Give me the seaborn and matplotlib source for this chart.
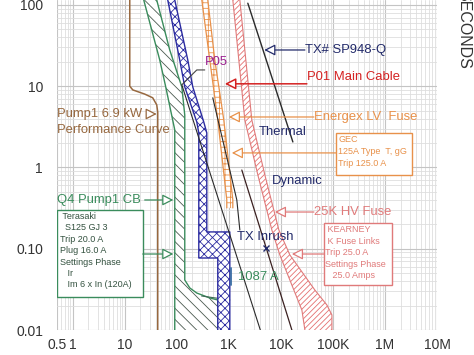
import numpy as np
import pandas as pd
import matplotlib
matplotlib.use("Agg")
import matplotlib.pyplot as plt
import seaborn as sns
from matplotlib.patches import Rectangle
from matplotlib.ticker import LogLocator, FixedLocator, FixedFormatter, NullFormatter

# ---------------- data (current A, time s) ----------------
motor_I = [12.5, 12.5, 14.3, 24.2, 34.5, 41.2, 43.1, 43.1]
motor_t = [115, 10.0, 9.0, 8.0, 7.2, 5.9, 4.8, 0.01]

cb_min_I = [23.2, 47.1, 61.4, 91.5, 91.5]
cb_min_t = [115, 21.0, 9.8, 2.9, 0.01]
cb_max_I = [41.2, 73.3, 125, 142.5, 142.5, 178, 242.5, 431, 614, 614]
cb_max_t = [115, 27.9, 9.8, 4.4, 0.0412, 0.0329, 0.0285, 0.0248, 0.0234, 0.01]
cb_tail_I = [300, 1045]
cb_tail_t = [0.0262, 0.0234]

p05_min_I = [67.1, 114, 142.5, 242.5, 265, 265, 614, 614]
p05_min_t = [115, 21, 9.8, 3.63, 2.66, 0.0769, 0.0769, 0.01]
p05_max_I = [91.5, 162.8, 203, 330, 377.6, 377.6, 1045, 1045]
p05_max_t = [115, 21, 9.8, 3.63, 2.66, 0.161, 0.161, 0.01]

lv_min_I = [302.7, 431, 614, 915, 915]
lv_min_t = [115, 21, 3.84, 0.398, 0.318]
lv_max_I = [394.5, 538, 801, 1194, 1194]
lv_max_t = [115, 21, 3.84, 0.398, 0.318]

hv_min_I = [1194, 2031, 3612, 6714, 9572, 17780, 25350, 28960]
hv_min_t = [115, 3.84, 0.81, 0.170, 0.0838, 0.031, 0.0176, 0.01]
hv_max_I = [1629, 2768, 4924, 9155, 14900, 45060, 76700, 95700, 95700]
hv_max_t = [115, 3.84, 0.81, 0.170, 0.0838, 0.031, 0.0203, 0.0153, 0.01]

tx_thermal_I = [2318, 17020]
tx_thermal_t = [105, 2.06]
tx_dynamic_I = [1778, 16280]
tx_dynamic_t = [0.93, 0.01]
tx_frequent_I = [492, 1425, 1629]
tx_frequent_t = [7.2, 0.398, 0.17]
p05_cable_I = [125, 4031]
p05_cable_t = [10.4, 0.01]
inrush_I = [5150]
inrush_t = [0.102]
fault_I = [1087, 1087]
fault_t = [0.058, 0.036]

x_ticks = [0.5, 1, 10, 100, 1e3, 1e4, 1e5, 1e6, 1e7]
x_labels = ["0.5", "1", "10", "100", "1K", "10K", "100K", "1M", "10M"]
y_ticks = [0.01, 0.1, 1, 10, 100]
y_labels = ["0.01", "0.10", "1", "10", "100"]

# ---------------- style ----------------
sns.set_theme(style="white")
plt.rcParams["font.family"] = ["Liberation Sans", "DejaVu Sans"]
plt.rcParams["hatch.linewidth"] = 0.6

BROWN = "#97683f"
GREEN = "#3a8c5c"
BLUE = "#2b2ba0"
PURPLE = "#9b2090"
ORANGE = "#e8914a"
RED = "#d42222"
PINK = "#e07a7a"
NAVY = "#222a6a"
DARK = "#2a2a2a"

fig = plt.figure(figsize=(4.74, 3.55), dpi=100)
ax = fig.add_axes([57 / 474, 25 / 355, 380 / 474, 330 / 355])
ax.set_xscale("log")
ax.set_yscale("log")
ax.set_xlim(0.5, 1e7)
ax.set_ylim(0.01, 115)

# grid
ax.xaxis.set_minor_locator(LogLocator(base=10, subs=range(2, 10), numticks=50))
ax.yaxis.set_minor_locator(LogLocator(base=10, subs=range(2, 10), numticks=50))
ax.xaxis.set_minor_formatter(NullFormatter())
ax.yaxis.set_minor_formatter(NullFormatter())
ax.xaxis.set_major_locator(FixedLocator(x_ticks))
ax.xaxis.set_major_formatter(FixedFormatter(x_labels))
ax.yaxis.set_major_locator(FixedLocator(y_ticks))
ax.yaxis.set_major_formatter(FixedFormatter(y_labels))
ax.grid(which="major", color="#c4c4c4", lw=0.8)
ax.grid(which="minor", color="#dedede", lw=0.6)
ax.set_axisbelow(True)
ax.tick_params(which="both", length=0)
ax.tick_params(axis="x", pad=6, labelsize=10, labelcolor="#333333")
ax.tick_params(axis="y", pad=10, labelsize=10, labelcolor="#333333")
for s in ax.spines.values():
    s.set_visible(False)


def band(min_I, min_t, max_I, max_t, color, hatch, edge=None, lw=0.9, z=2):
    xs = list(min_I) + list(max_I)[::-1]
    ys = list(min_t) + list(max_t)[::-1]
    ax.fill(xs, ys, facecolor="white", edgecolor=color, hatch=hatch, lw=0, zorder=z)
    ec = edge or color
    sns.lineplot(x=min_I, y=min_t, sort=False, estimator=None, ax=ax, color=ec, lw=lw, zorder=z + 0.1)
    sns.lineplot(x=max_I, y=max_t, sort=False, estimator=None, ax=ax, color=ec, lw=lw, zorder=z + 0.1)


band(hv_min_I, hv_min_t, hv_max_I, hv_max_t, "#e47070", "//////", edge=PINK, lw=0.8)
band(cb_min_I, cb_min_t, cb_max_I, cb_max_t, "#4b5a50", "\\\\\\", edge=GREEN, lw=1.0)
sns.lineplot(x=cb_tail_I, y=cb_tail_t, sort=False, estimator=None, ax=ax, color="#3f6a55", lw=0.8, zorder=2.2)
band(p05_min_I, p05_min_t, p05_max_I, p05_max_t, BLUE, "xxxx", lw=1.0, z=2.5)
band(lv_min_I, lv_min_t, lv_max_I, lv_max_t, ORANGE, "+++", lw=0.9, z=2.6)

lines = [
    (motor_I, motor_t, BROWN, 1.1),
    (tx_thermal_I, tx_thermal_t, DARK, 1.0),
    (tx_dynamic_I, tx_dynamic_t, "#3a2020", 0.9),
    (tx_frequent_I, tx_frequent_t, DARK, 0.8),
    (p05_cable_I, p05_cable_t, DARK, 0.8),
    (fault_I, fault_t, "#3b6ea5", 1.3),
]
for xi, yi, c, w in lines:
    sns.lineplot(x=xi, y=yi, sort=False, estimator=None, ax=ax, color=c, lw=w, zorder=3)
ax.plot(inrush_I, inrush_t, marker="x", ms=4, mew=1.0, color=NAVY, ls="none", zorder=4)

# ---------------- labels & leaders ----------------
FS = 9.4


def leader(start, tip, color, lw=0.9):
    ax.annotate("", xy=tip, xytext=start, zorder=5,
                arrowprops=dict(arrowstyle="-|>,head_length=0.55,head_width=0.28",
                                ec=color, fc="white", lw=lw, shrinkA=0, shrinkB=0))


ax.text(0.5, 4.55, "Pump1 6.9 kW", color=BROWN, fontsize=FS, ha="left", va="center", zorder=5)
ax.text(0.5, 2.9, "Performance Curve", color=BROWN, fontsize=FS, ha="left", va="center", zorder=5)
leader((27.5, 4.55), (41.2, 4.55), BROWN)

ax.text(0.5, 0.398, "Q4 Pump1 CB", color=GREEN, fontsize=FS, ha="left", va="center", zorder=5)
leader((24.2, 0.398), (86, 0.398), GREEN)

ax.add_patch(Rectangle((0.5, 0.0255), 22.2 - 0.5, 0.300 - 0.0255, facecolor="white",
                       edgecolor=GREEN, lw=1.0, zorder=4))
ax.text(0.57, 0.285, " Terasaki\n  S125 GJ 3\nTrip 20.0 A\nPlug 16.0 A\nSettings Phase\n   Ir\n   Im 6 x In (120A)",
        color="#33513f", fontsize=6.5, ha="left", va="top", linespacing=1.35, zorder=5)
leader((22.2, 0.0861), (86, 0.0861), GREEN)

ax.text(345, 19.9, "P05", color=PURPLE, fontsize=FS, ha="left", va="center", zorder=5)
ax.plot([345, 242.5, 125], [15.85, 15.85, 10.4], color="#444444", lw=0.8, zorder=5)

ax.text(28960, 27.9, "TX# SP948-Q", color=NAVY, fontsize=FS, ha="left", va="center", zorder=5)
leader((28960, 27.9), (4800, 27.9), NAVY)

ax.text(31620, 13.0, "P01 Main Cable", color=RED, fontsize=FS, ha="left", va="center", zorder=5)
leader((31620, 10.7), (840, 10.7), RED, lw=1.1)

ax.text(43130, 4.18, "Energex LV  Fuse", color=ORANGE, fontsize=FS, ha="left", va="center", zorder=5)
leader((43130, 4.18), (1000, 4.18), ORANGE)

ax.text(3776, 2.74, "Thermal", color=NAVY, fontsize=FS, ha="left", va="center", zorder=5)
ax.text(6714, 0.682, "Dynamic", color=NAVY, fontsize=FS, ha="left", va="center", zorder=5)

ax.add_patch(Rectangle((114200, 0.81), 3.3e6 - 114200, 2.66 - 0.81, facecolor="white",
                       edgecolor=ORANGE, lw=1.0, zorder=4))
ax.text(128000, 2.5, "GEC\n125A Type  T, gG\nTrip 125.0 A", color=ORANGE, fontsize=6.5,
        ha="left", va="top", linespacing=1.45, zorder=5)
leader((114200, 1.51), (1142, 1.51), ORANGE)

ax.text(43130, 0.283, "25K HV Fuse", color=PINK, fontsize=FS, ha="left", va="center", zorder=5)
leader((43130, 0.283), (7674, 0.283), PINK)

ax.add_patch(Rectangle((67140, 0.0358), 1.364e6 - 67140, 0.2075 - 0.0358, facecolor="white",
                       edgecolor=PINK, lw=1.0, zorder=4))
ax.text(72000, 0.195, " KEARNEY\n K Fuse Links\nTrip 25.0 A\nSettings Phase\n   25.0 Amps", color=PINK,
        fontsize=6.5, ha="left", va="top", linespacing=1.35, zorder=5)
leader((67140, 0.0861), (16280, 0.0861), PINK)

ax.text(1425, 0.1395, "TX Inrush", color=NAVY, fontsize=FS, ha="left", va="center", zorder=5)
ax.text(1490, 0.0449, "1087 A", color=GREEN, fontsize=FS, ha="left", va="center", zorder=5)

fig.text(464 / 474, 1 - 29.5 / 355, "SECONDS", rotation=-90, ha="center", va="center",
         fontsize=11.5, color="#333333")

fig.savefig("out.png", dpi=100)
